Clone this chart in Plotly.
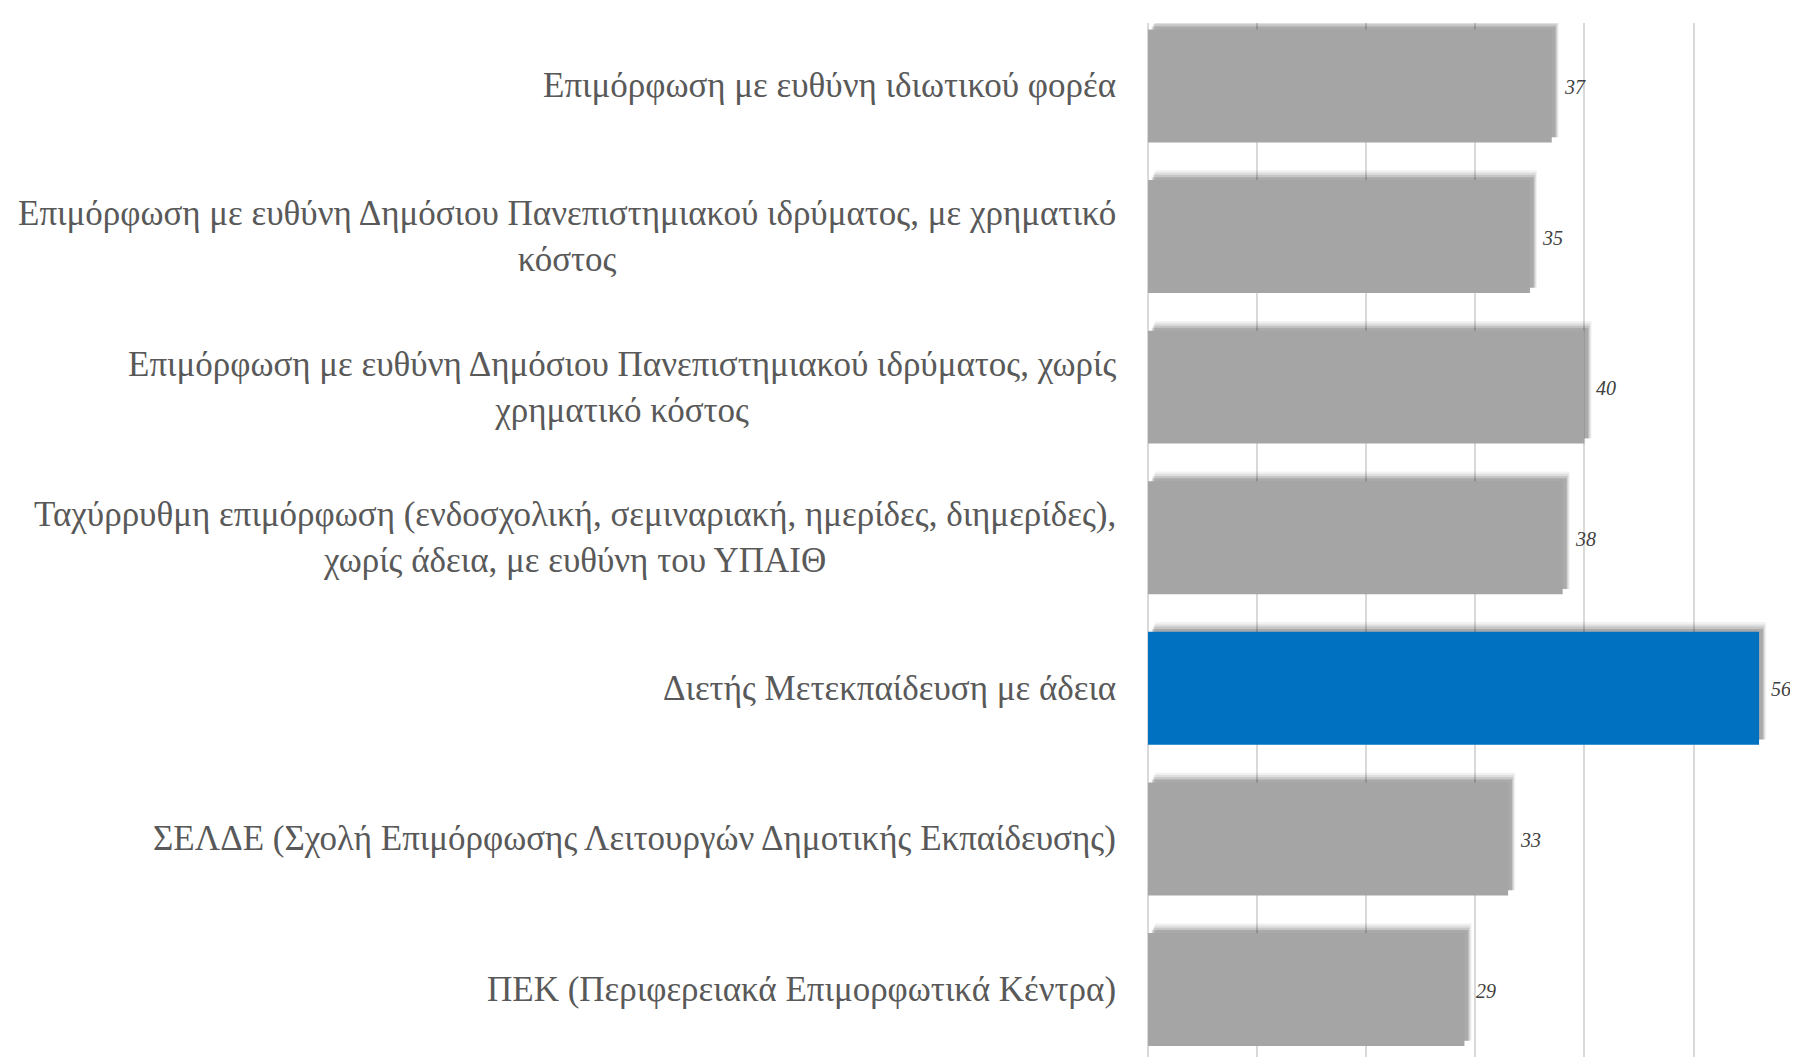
import plotly.graph_objects as go

categories = [
    "Επιμόρφωση με ευθύνη ιδιωτικού φορέα",
    "Επιμόρφωση με ευθύνη Δημόσιου Πανεπιστημιακού ιδρύματος, με χρηματικό<br>κόστος",
    "Επιμόρφωση με ευθύνη Δημόσιου Πανεπιστημιακού ιδρύματος, χωρίς<br>χρηματικό κόστος",
    "Ταχύρρυθμη επιμόρφωση (ενδοσχολική, σεμιναριακή, ημερίδες, διημερίδες),<br>χωρίς άδεια, με ευθύνη του ΥΠΑΙΘ",
    "Διετής Μετεκπαίδευση με άδεια",
    "ΣΕΛΔΕ (Σχολή Επιμόρφωσης Λειτουργών Δημοτικής Εκπαίδευσης)",
    "ΠΕΚ (Περιφερειακά Επιμορφωτικά Κέντρα)",
]
values = [37, 35, 40, 38, 56, 33, 29]
highlight = "Διετής Μετεκπαίδευση με άδεια"

GRAY = "#A5A5A5"
BLUE = "#0070C0"
FONT = "Liberation Serif"

pos = list(range(len(categories)))
colors = [BLUE if c == highlight else GRAY for c in categories]

fig = go.Figure()

# soft shadow layers (offset up-right)
for dx, dy, extra, op in [(0.65, 0.05, 0.03, 0.05), (0.55, 0.042, 0.015, 0.08),
                          (0.45, 0.035, 0.0, 0.11), (0.35, 0.027, -0.015, 0.14)]:
    fig.add_trace(go.Bar(
        y=pos, x=values, base=[dx] * len(values), orientation="h",
        width=0.75 + extra, offset=-(0.75 + extra) / 2 - dy,
        marker=dict(color=f"rgba(0,0,0,{op})", line=dict(width=0)),
        hoverinfo="skip", showlegend=False,
    ))

fig.add_trace(go.Bar(
    y=pos, x=values, orientation="h", width=0.75,
    marker=dict(color=colors, line=dict(width=0)),
    showlegend=False,
))

for p, v in zip(pos, values):
    fig.add_annotation(
        x=v, y=p, xref="x", yref="y", text=str(v), showarrow=False,
        xanchor="left", xshift=10, yshift=-1,
        font=dict(family=FONT, size=20, color="#404040", style="italic"),
    )

for p, c in zip(pos, categories):
    fig.add_annotation(
        x=0, y=p, xref="paper", yref="y", text=c, showarrow=False,
        xanchor="right", align="center", xshift=-30,
        font=dict(family=FONT, size=35, color="#595959"),
    )

fig.update_layout(
    width=1798, height=1061,
    margin=dict(l=1140, r=0, t=15, b=12),
    paper_bgcolor="white", plot_bgcolor="white",
    barmode="overlay", bargap=0.25,
    xaxis=dict(range=[0, 60.3], dtick=10, showgrid=True, gridcolor="#D9D9D9", gridwidth=1.5,
               zeroline=True, zerolinecolor="#D9D9D9", zerolinewidth=1.5,
               showticklabels=False, showline=False, fixedrange=True),
    yaxis=dict(range=[6.448, -0.418], showgrid=False, zeroline=False,
               showticklabels=False, showline=False, fixedrange=True),
)

fig.write_html("out.html")
